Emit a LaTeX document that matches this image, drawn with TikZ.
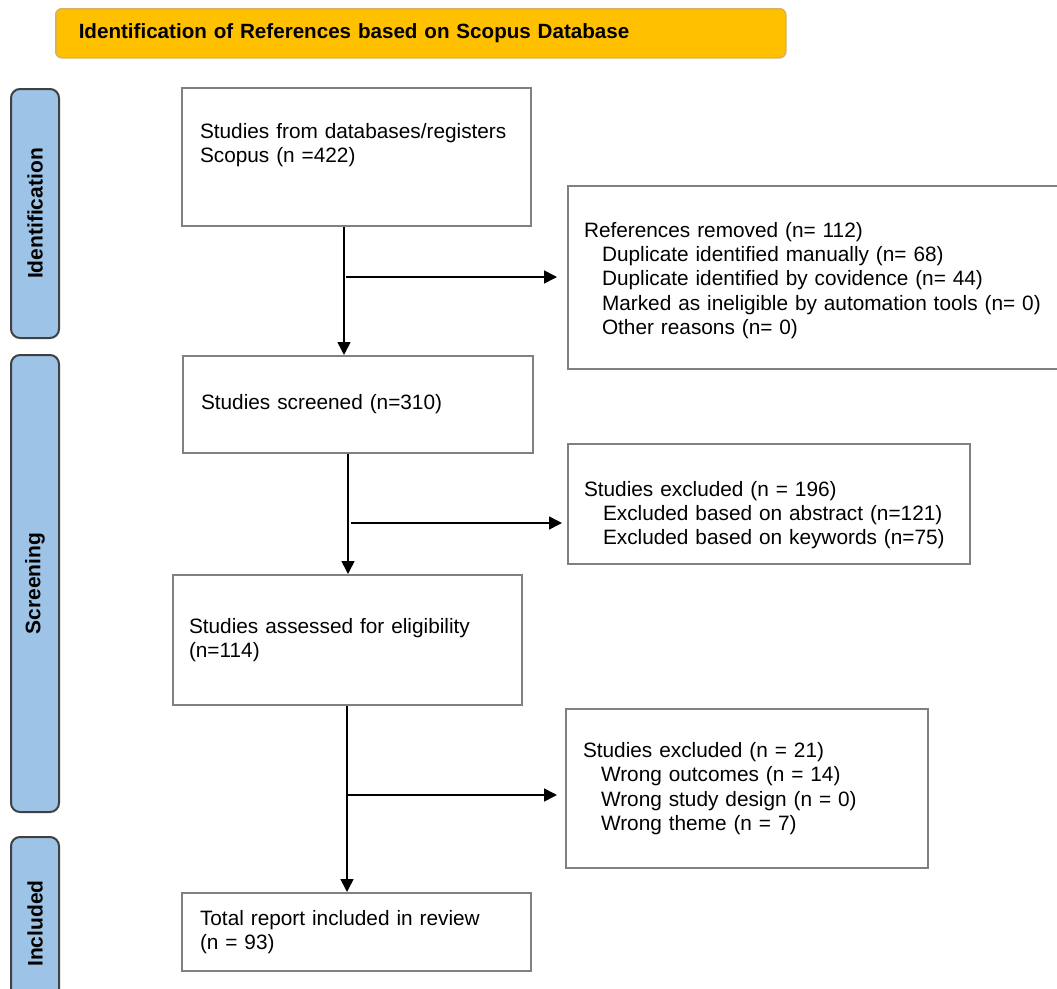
\documentclass[tikz,border=0pt]{standalone}
\usepackage{fontspec}
\setmainfont{Liberation Sans}
\usetikzlibrary{arrows.meta}
\definecolor{bannerfill}{RGB}{255,192,0}
\definecolor{bannerline}{RGB}{214,178,92}
\definecolor{phasefill}{RGB}{157,195,230}
\definecolor{phaseline}{RGB}{64,64,64}
\definecolor{boxline}{RGB}{128,128,128}

\begin{document}
\begin{tikzpicture}[x=1pt, y=-1pt,
    box/.style={draw=boxline, line width=2pt, anchor=north west, align=left, inner ysep=0pt,
      font=\fontsize{20.8}{24.3}\selectfont},
    phase/.style={draw=phaseline, fill=phasefill, line width=2pt, rounded corners=9pt, rotate=90,
      minimum height=48pt, inner sep=0pt, font=\fontsize{21}{24}\selectfont\bfseries},
    arr/.style={line width=1.6pt, -{Triangle[length=13pt,width=13pt]}}]
      \useasboundingbox (0,0) rectangle (1057,988);
      \node[draw=bannerline, fill=bannerfill, line width=1.5pt, rounded corners=6pt, anchor=north west,
        minimum width=730pt, minimum height=49pt, text width=684pt, inner xsep=23pt, align=left,
        font=\fontsize{20.6}{24}\selectfont\bfseries] (T) at (55,8) {Identification of References based on Scopus Database};
      \node[phase, minimum width=249pt] (ID) at (35,213.5) {Identification};
      \node[phase, minimum width=457pt] (SC) at (35,583.5) {Screening};
      \node[phase, minimum width=173pt] (IN) at (35,923.5) {Included};
      \node[box, minimum width=349pt, minimum height=138pt, text width=313pt, text depth=52pt] (A) at (181,87)
        {Studies from databases/registers\\Scopus (n =422)};
      \node[box, minimum width=495pt, minimum height=183pt, text width=463pt, text height=21pt] (RA) at (567,185)
        {References removed (n= 112)\\
         \hspace*{18pt}Duplicate identified manually (n= 68)\\
         \hspace*{18pt}Duplicate identified by covidence (n= 44)\\
         \hspace*{18pt}Marked as ineligible by automation tools (n= 0)\\
         \hspace*{18pt}Other reasons (n= 0)};
      \node[box, minimum width=350pt, minimum height=97pt, text width=314pt] (B) at (182,355)
        {Studies screened (n=310)};
      \node[box, minimum width=402pt, minimum height=120pt, text width=370pt, text height=37pt] (RB) at (567,443)
        {Studies excluded (n = 196)\\
         \hspace*{19pt}Excluded based on abstract (n=121)\\
         \hspace*{19pt}Excluded based on keywords (n=75)};
      \node[box, minimum width=349pt, minimum height=130pt, text width=317pt] (C) at (172,574)
        {Studies assessed for eligibility\\(n=114)};
      \node[box, minimum width=362pt, minimum height=159pt, text width=328pt] (RC) at (565,708)
        {Studies excluded (n = 21)\\
         \hspace*{18pt}Wrong outcomes (n = 14)\\
         \hspace*{18pt}Wrong study design (n = 0)\\
         \hspace*{18pt}Wrong theme (n = 7)};
      \node[box, minimum width=349pt, minimum height=78pt, text width=313pt] (D) at (181,892)
        {Total report included in review\\(n = 93)};
      \coordinate (J1) at (344,277);
      \coordinate (J2) at (348,523);
      \coordinate (J3) at (347,795);
      \draw[arr] (A.south -| J1) -- (B.north -| J1);
      \draw[arr] (B.south -| J2) -- (C.north -| J2);
      \draw[arr] (C.south -| J3) -- (D.north -| J3);
      \draw[arr, shorten >=10pt] ([xshift=2pt]J1) -- (RA.west |- J1);
      \draw[arr, shorten >=5pt] ([xshift=3pt]J2) -- (RB.west |- J2);
      \draw[arr, shorten >=8pt] (J3) -- (RC.west |- J3);
\end{tikzpicture}
\end{document}
